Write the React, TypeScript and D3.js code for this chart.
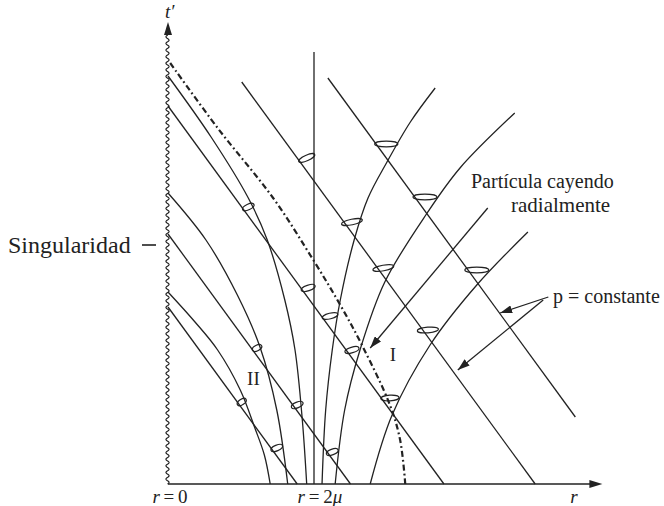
import React from "react";
import * as d3 from "d3";

// ---- data (units: r and t' in units of mu; horizon at r = 2) ----
// ingoing null rays  t' + r = p
const ingoingP = [6.25, 5.03, 3.78, 2.5, 1.77];
const ingoingRFrom = [2.19, 1.01, 0, 0, 0];
const ingoingRTo = [5.58, 5.03, 3.78, 2.5, 1.77];

// outgoing null rays inside the horizon (r < 2)
const innerRay1: [number, number][] = [[0, 4.08], [0.59, 3.47], [1.1, 2.86], [1.36, 2.44], [1.6, 1.84], [1.74, 1.34], [1.84, 0.64], [1.9, 0]];
const innerRay2: [number, number][] = [[0, 2.91], [0.52, 2.44], [0.95, 1.89], [1.26, 1.37], [1.49, 0.74], [1.64, 0]];
const innerRay3: [number, number][] = [[0, 1.92], [0.37, 1.62], [0.68, 1.34], [0.99, 0.94], [1.19, 0.56], [1.32, 0.29], [1.4, 0]];

// outgoing null rays outside the horizon (r > 2)
const outerRay1: [number, number][] = [[3.66, 3.96], [3.32, 3.62], [3.0, 3.22], [2.74, 2.86], [2.55, 2.44], [2.36, 1.84], [2.25, 1.34], [2.16, 0.74], [2.11, 0]];
const outerRay2: [number, number][] = [[4.75, 3.71], [4.0, 3.16], [3.55, 2.71], [2.97, 2.02], [2.63, 1.34], [2.42, 0.74], [2.29, 0]];
const outerRay3: [number, number][] = [[4.93, 2.52], [4.23, 1.99], [3.59, 1.39], [3.07, 0.69], [2.77, 0]];

// radially infalling particle
const particle: [number, number][] = [[0.03, 4.21], [0.68, 3.56], [1.44, 2.86], [1.99, 2.24], [2.36, 1.79], [2.67, 1.37], [3.04, 0.79], [3.18, 0.44], [3.25, 0]];

// light cones: centre (r, t')
const coneR = [1.9, 2.99, 3.52, 1.1, 1.92, 2.52, 2.95, 2.22, 3.56, 4.23, 3.04, 2.52, 1.01, 1.22, 1.77, 1.49, 2.25];
const coneT = [3.26, 3.4, 2.87, 2.77, 1.96, 2.62, 2.16, 1.68, 1.54, 2.14, 0.86, 1.34, 0.82, 1.36, 0.79, 0.36, 0.32];
const coneHalfWidth = [0.12, 0.16, 0.165, 0.085, 0.1, 0.145, 0.145, 0.11, 0.145, 0.165, 0.125, 0.1, 0.07, 0.07, 0.085, 0.085, 0.085];
const coneTilt = [-24, 0, 0, -25, -19, -11, -10, -14, -5, 0, -3, -16, -35, -27, -23, -23, -20];

// annotation arrows: [fromR, fromT, toR, toT]
const arrowParticle = [4.38, 2.76, 2.77, 1.36];
const arrowP1 = [5.21, 1.87, 4.55, 1.71];
const arrowP2 = [5.14, 1.84, 3.97, 1.14];

const horizonR = 2;
const horizonTop = 4.32;
const rMax = 5.95;
const tMax = 4.62;

const xS = d3.scaleLinear().domain([0, 6]).range([168, 606]);
const yS = d3.scaleLinear().domain([0, 4.64]).range([484, 20]);

const INK = "#222";

export default function App() {
  const curve = d3
    .line<[number, number]>()
    .x((d) => xS(d[0]))
    .y((d) => yS(d[1]))
    .curve(d3.curveCatmullRom.alpha(0.5));
  const straight = d3
    .line<[number, number]>()
    .x((d) => xS(d[0]))
    .y((d) => yS(d[1]));

  // decorative wavy singularity
  const waveTop = yS(4.49);
  const wavePts: [number, number][] = d3
    .range(yS(0), waveTop, -0.5)
    .map((py) => [xS(0) - 0.5 + 1.6 * Math.sin((2 * Math.PI * (yS(0) - py)) / 6.6), py]);
  const wavePath = d3.line()(wavePts as any) || "";

  const x0 = xS(0);
  const y0 = yS(0);
  const xEnd = xS(rMax);
  const yTop = yS(tMax);

  return (
    <svg
      width={664}
      height={506}
      style={{ position: "absolute", left: 0, top: 0, background: "#fff" }}
      fontFamily="'Liberation Serif', 'Times New Roman', serif"
    >
      <defs>
        <marker id="ah" viewBox="0 0 12 8" refX="12" refY="4" markerWidth="12" markerHeight="8" orient="auto" markerUnits="userSpaceOnUse">
          <path d="M0,0 L12,4 L0,8 z" fill={INK} />
        </marker>
      </defs>

      {/* axes */}
      <line x1={x0} y1={y0} x2={xEnd - 10} y2={y0} stroke={INK} strokeWidth={1.3} />
      <path d={`M${xEnd},${y0} L${xEnd - 13},${y0 - 4} L${xEnd - 13},${y0 + 4} Z`} fill={INK} />
      <path d={wavePath} fill="none" stroke={INK} strokeWidth={1.1} />
      <line x1={x0} y1={waveTop} x2={x0} y2={yTop + 8} stroke={INK} strokeWidth={1.2} />
      <path d={`M${x0},${yTop} L${x0 - 4},${yTop + 13} L${x0 + 4},${yTop + 13} Z`} fill={INK} />

      {/* horizon r = 2mu */}
      <line x1={xS(horizonR)} y1={y0} x2={xS(horizonR)} y2={yS(horizonTop)} stroke={INK} strokeWidth={1.3} />

      {/* ingoing rays */}
      {ingoingP.map((p, i) => (
        <path
          key={"in" + i}
          d={straight([[ingoingRFrom[i], p - ingoingRFrom[i]], [ingoingRTo[i], p - ingoingRTo[i]]]) || ""}
          fill="none"
          stroke={INK}
          strokeWidth={1.3}
        />
      ))}

      {/* outgoing rays */}
      {[innerRay1, innerRay2, innerRay3, outerRay1, outerRay2, outerRay3].map((pts, i) => (
        <path key={"out" + i} d={curve(pts) || ""} fill="none" stroke={INK} strokeWidth={1.3} />
      ))}

      {/* particle */}
      <path d={curve(particle) || ""} fill="none" stroke={INK} strokeWidth={2.2} strokeDasharray="6 3 1.8 3" />

      {/* light cones */}
      {coneR.map((r, i) => {
        const cx = xS(r);
        const cy = yS(coneT[i]);
        const rx = xS(coneHalfWidth[i]) - xS(0);
        return (
          <ellipse
            key={"c" + i}
            cx={cx}
            cy={cy}
            rx={rx}
            ry={2.8}
            transform={`rotate(${coneTilt[i]},${cx},${cy})`}
            fill="none"
            stroke={INK}
            strokeWidth={1.2}
          />
        );
      })}

      {/* annotation arrows */}
      {[arrowParticle, arrowP1, arrowP2].map((a, i) => (
        <line
          key={"a" + i}
          x1={xS(a[0])}
          y1={yS(a[1])}
          x2={xS(a[2])}
          y2={yS(a[3])}
          stroke={INK}
          strokeWidth={1.3}
          markerEnd="url(#ah)"
        />
      ))}

      {/* labels */}
      <text x={x0 - 3} y={yTop - 4} fontSize={19} fontStyle="italic" fill={INK}>t′</text>
      <text x={8} y={253} fontSize={24} fill={INK}>Singularidad</text>
      <line x1={142} y1={245} x2={156} y2={245} stroke={INK} strokeWidth={1.6} />
      <text x={471} y={188} fontSize={20} fill={INK}>Partícula cayendo</text>
      <text x={511} y={212} fontSize={21} fill={INK}>radialmente</text>
      <text x={553} y={303} fontSize={20} fill={INK}>p = constante</text>
      <text x={xS(3.08)} y={yS(1.23)} fontSize={19} fill={INK} textAnchor="middle">I</text>
      <text x={xS(1.17)} y={yS(0.99)} fontSize={19} fill={INK} textAnchor="middle">II</text>
      <text x={x0 + 2} y={503} fontSize={19} fill={INK} textAnchor="middle">
        <tspan fontStyle="italic">r</tspan>{"\u2009=\u20090"}
      </text>
      <text x={xS(horizonR) + 6} y={503} fontSize={19} fill={INK} textAnchor="middle">
        <tspan fontStyle="italic">r</tspan>{"\u2009=\u20092"}<tspan fontStyle="italic">μ</tspan>
      </text>
      <text x={xS(5.56)} y={503} fontSize={19} fill={INK} textAnchor="middle" fontStyle="italic">r</text>
    </svg>
  );
}
